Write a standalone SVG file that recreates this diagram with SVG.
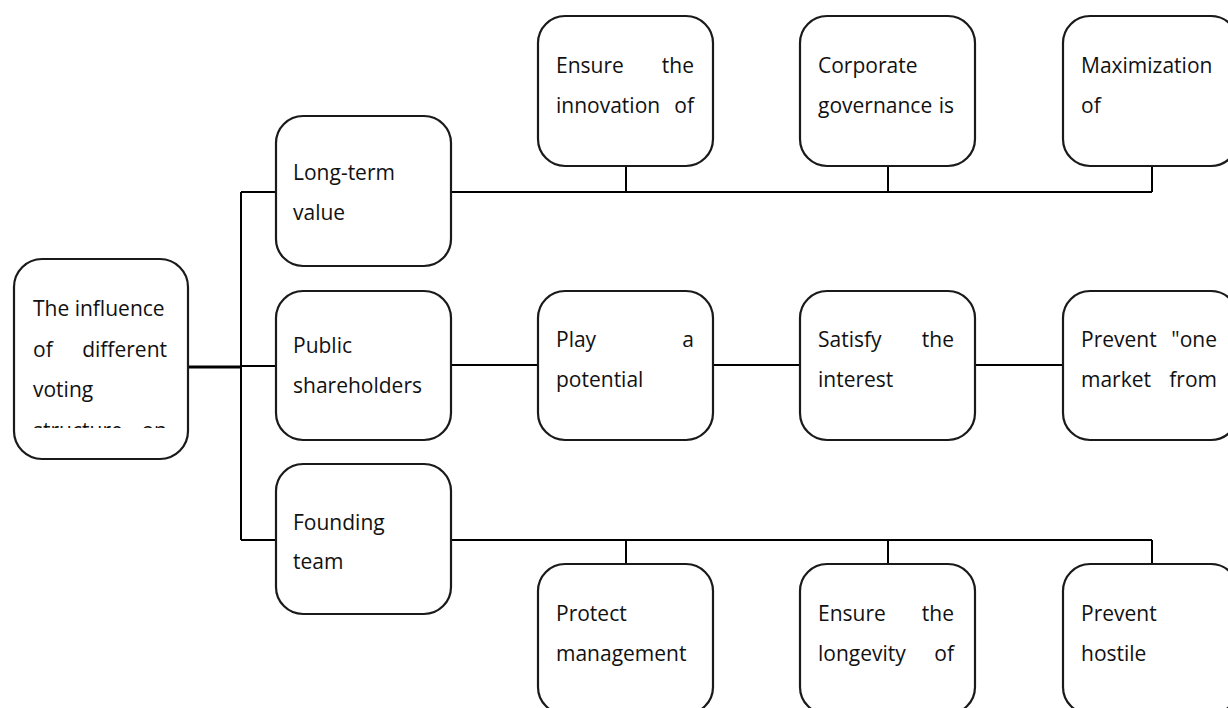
<svg xmlns="http://www.w3.org/2000/svg" width="1228" height="708" viewBox="0 0 1228 708">
  <style>
    .box { fill: #ffffff; stroke: #1a1a1a; stroke-width: 2.2; }
    .wire { fill: none; stroke: #000000; stroke-width: 2; }
    .trunk { fill: none; stroke: #000000; stroke-width: 3; }
    text { font-family: "Open Sans", "Noto Sans", sans-serif; font-size: 21px; fill: #111111; }
    .r { text-anchor: end; }
  </style>
  <defs>
    <clipPath id="clip-root"><rect x="20" y="270" width="160" height="158"/></clipPath>
  </defs>

  <rect width="1228" height="708" fill="#ffffff"/>

  <!-- connectors -->
  <g id="connectors">
    <path class="trunk" d="M188 367 H241"/>
    <path class="wire" d="M241 192 V540"/>
    <path class="wire" d="M241 192 H276 M241 366 H276 M241 540 H276"/>
    <!-- long-term value branch -->
    <path class="wire" d="M451 192 H1152 M626 192 V166 M888 192 V166 M1152 192 V166"/>
    <!-- public shareholders chain -->
    <path class="wire" d="M451 365 H538 M713 365 H800 M975 365 H1063"/>
    <!-- founding team branch -->
    <path class="wire" d="M451 540 H1152 M626 540 V564 M888 540 V564 M1152 540 V564"/>
  </g>

  <!-- root -->
  <g id="root">
    <rect class="box" x="14" y="259" width="174" height="200" rx="28"/>
    <text x="33" y="316">The influence</text>
    <text x="33" y="357">of</text><text class="r" x="167" y="357">different</text>
    <text x="33" y="397">voting</text>
    <g clip-path="url(#clip-root)">
      <text x="33" y="438">structure</text><text class="r" x="167" y="438">on</text>
    </g>
  </g>

  <!-- second level -->
  <g id="long-term-value">
    <rect class="box" x="276" y="116" width="175" height="150" rx="27"/>
    <text x="293" y="180">Long-term</text>
    <text x="293" y="220">value</text>
  </g>
  <g id="public-shareholders">
    <rect class="box" x="276" y="291" width="175" height="149" rx="27"/>
    <text x="293" y="353">Public</text>
    <text x="293" y="393">shareholders</text>
  </g>
  <g id="founding-team">
    <rect class="box" x="276" y="464" width="175" height="150" rx="27"/>
    <text x="293" y="530">Founding</text>
    <text x="293" y="569">team</text>
  </g>

  <!-- top row -->
  <g id="ensure-innovation">
    <rect class="box" x="538" y="16" width="175" height="150" rx="27"/>
    <text x="556" y="73">Ensure</text><text class="r" x="694" y="73">the</text>
    <text x="556" y="113">innovation</text><text class="r" x="694" y="113">of</text>
  </g>
  <g id="corporate-governance">
    <rect class="box" x="800" y="16" width="175" height="150" rx="27"/>
    <text x="818" y="73">Corporate</text>
    <text x="818" y="113">governance</text><text class="r" x="954" y="113">is</text>
  </g>
  <g id="maximization">
    <rect class="box" x="1063" y="16" width="175" height="150" rx="27"/>
    <text x="1081" y="73">Maximization</text>
    <text x="1081" y="113">of</text>
  </g>

  <!-- middle row -->
  <g id="play-potential">
    <rect class="box" x="538" y="291" width="175" height="149" rx="27"/>
    <text x="556" y="347">Play</text><text class="r" x="694" y="347">a</text>
    <text x="556" y="387">potential</text>
  </g>
  <g id="satisfy-interest">
    <rect class="box" x="800" y="291" width="175" height="149" rx="27"/>
    <text x="818" y="347">Satisfy</text><text class="r" x="954" y="347">the</text>
    <text x="818" y="387">interest</text>
  </g>
  <g id="prevent-one">
    <rect class="box" x="1063" y="291" width="175" height="149" rx="27"/>
    <text x="1081" y="347">Prevent</text><text class="r" x="1217" y="347">"one</text>
    <text x="1081" y="387">market</text><text class="r" x="1217" y="387">from</text>
  </g>

  <!-- bottom row -->
  <g id="protect-management">
    <rect class="box" x="538" y="564" width="175" height="150" rx="27"/>
    <text x="556" y="621">Protect</text>
    <text x="556" y="661">management</text>
  </g>
  <g id="ensure-longevity">
    <rect class="box" x="800" y="564" width="175" height="150" rx="27"/>
    <text x="818" y="621">Ensure</text><text class="r" x="954" y="621">the</text>
    <text x="818" y="661">longevity</text><text class="r" x="954" y="661">of</text>
  </g>
  <g id="prevent-hostile">
    <rect class="box" x="1063" y="564" width="175" height="150" rx="27"/>
    <text x="1081" y="621">Prevent</text>
    <text x="1081" y="661">hostile</text>
  </g>
</svg>
